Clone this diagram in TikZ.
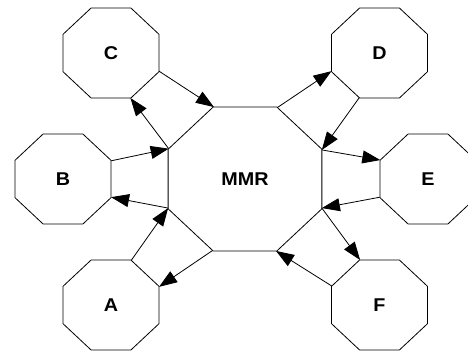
\documentclass[tikz,border=0pt]{standalone}
\usepackage{fontspec}
\setmainfont{Liberation Sans}
\usetikzlibrary{shapes.geometric,arrows.meta}

\tikzset{
	octagon/.style = {draw, regular polygon, regular polygon sides = 8, inner sep = 0pt, outer sep = 0pt, line width = .8pt, xscale = 1.068, font = \fontsize{18.5}{22}\selectfont\bfseries},
	link/.style = {line width = .8pt, -{Triangle[length = 18pt, width = 13pt]}}
}

\begin{document}
\begin{tikzpicture}[x = 1pt, y = -1pt]
	\def\smallsize{97.4pt}
	\def\bigsize{155.8pt}

	\useasboundingbox (0,0) rectangle (468,351);

	\node[octagon, minimum size = \bigsize] (mmr) at (245,179) {MMR};

	\node[octagon, minimum size = \smallsize] (c) at (111,53) {C};
	\node[octagon, minimum size = \smallsize] (b) at (63,179) {B};
	\node[octagon, minimum size = \smallsize] (a) at (111,305) {A};
	\node[octagon, minimum size = \smallsize] (d) at (379.5,53) {D};
	\node[octagon, minimum size = \smallsize] (e) at (428,179) {E};
	\node[octagon, minimum size = \smallsize] (f) at (379.5,305) {F};

	% left side
	\draw[link] (c.-22.5) -- (mmr.112.5);
	\draw[link] (mmr.157.5) -- (c.292.5);
	\draw[link] (b.22.5) -- (mmr.157.5);
	\draw[link] (mmr.202.5) -- (b.-22.5);
	\draw[link] (a.67.5) -- (mmr.202.5);
	\draw[link] (mmr.247.5) -- (a.22.5);

	% right side
	\draw[link] (mmr.67.5) -- (d.202.5);
	\draw[link] (d.247.5) -- (mmr.22.5);
	\draw[link] (mmr.22.5) -- (e.157.5);
	\draw[link] (e.202.5) -- (mmr.-22.5);
	\draw[link] (mmr.-22.5) -- (f.112.5);
	\draw[link] (f.157.5) -- (mmr.292.5);
\end{tikzpicture}
\end{document}
